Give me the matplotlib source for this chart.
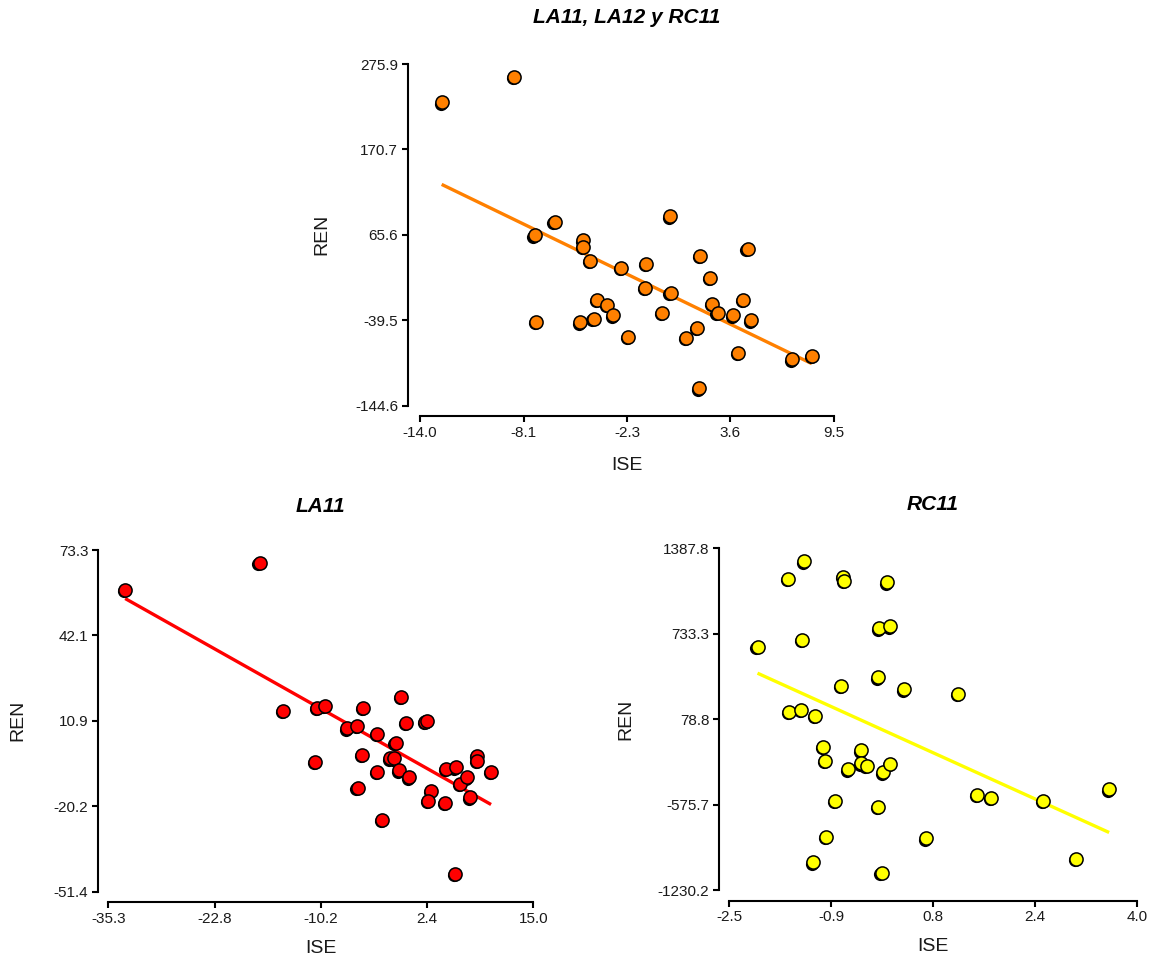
import numpy as np
import matplotlib
matplotlib.use("Agg")
import matplotlib.pyplot as plt
from matplotlib.transforms import offset_copy

plt.rcParams['font.family'] = ['Liberation Sans', 'DejaVu Sans']

# ---- data: ISE vs REN for each group ----
ise_all = [-12.77, -8.65, -6.36, -7.50, -4.72, -4.72, -4.34, 0.18, 1.91, 4.59,
           -1.17, -2.61, 2.48, -1.25, 0.22, -3.96, -3.40, -3.06, -4.15, -4.90,
           -7.39, 2.59, 2.89, 3.76, 4.32, 4.80, -0.27, -2.21, 1.12, 1.72,
           4.04, 7.11, 8.24, 1.84]
ren_all = [228.7, 260.2, 81.5, 65.1, 58.9, 50.7, 33.4, 88.5, 39.6, 48.2,
           29.7, 25.3, 12.9, 0.2, -6.0, -14.2, -20.3, -33.5, -37.6, -42.1,
           -41.3, -19.1, -30.7, -33.5, -14.2, -39.7, -30.5, -59.8, -61.4, -48.9,
           -79.2, -87.7, -83.2, -123.2]

ise_la11 = [-33.3, -17.4, -14.6, -10.6, -9.7, -5.1, -0.7, -0.1, 2.2, 2.4,
            -7.0, -5.9, -3.5, -1.3, -10.8, -5.3, -2.0, -1.5, -3.5, -0.9,
            0.3, -5.8, 2.9, 2.5, 4.6, 4.7, 5.8, 6.3, 7.2, 8.3,
            8.3, 10.0, 7.5, -2.9, 5.7]
ren_la11 = [58.7, 68.5, 14.5, 15.8, 16.5, 15.8, 19.6, 10.2, 10.7, 11.0,
            8.2, 9.1, 6.1, 2.9, -4.1, -1.5, -2.7, -2.7, -7.8, -7.1,
            -9.7, -13.5, -14.6, -18.3, -18.9, -6.6, -6.0, -12.1, -9.7, -1.9,
            -3.6, -7.6, -17.0, -25.2, -44.9]

ise_rc11 = [-2.05, -1.56, -1.31, -0.69, -0.67, 0.02, -1.34, -0.11, 0.07, -0.12,
            -0.72, 0.29, 1.15, -1.54, -1.35, -1.13, -1.01, -0.97, -0.40, -0.40,
            -0.31, -0.61, -0.05, 0.07, -0.81, -0.12, 1.45, 1.67, 2.51, 3.56,
            -0.96, 0.64, -1.17, 3.03, -0.07]
ren_rc11 = [633.9, 1154.9, 1288.2, 1170.2, 1139.5, 1127.3, 687.5, 774.9, 790.2, 399.4,
            335.1, 307.5, 271.5, 135.9, 148.9, 102.9, -134.6, -239.6, -159.9, -259.5,
            -277.9, -305.4, -328.4, -262.6, -548.4, -592.1, -500.1, -523.0, -548.4, -458.8,
            -821.9, -834.1, -1017.9, -992.7, -1097.7]

# axis ranges and tick labels
xlim_all, ylim_all = (-14.0, 9.5), (-144.6, 275.9)
xt_all = ["-14.0", "-8.1", "-2.3", "3.6", "9.5"]
yt_all = ["-144.6", "-39.5", "65.6", "170.7", "275.9"]

xlim_la11, ylim_la11 = (-35.3, 15.0), (-51.4, 73.3)
xt_la11 = ["-35.3", "-22.8", "-10.2", "2.4", "15.0"]
yt_la11 = ["-51.4", "-20.2", "10.9", "42.1", "73.3"]

xlim_rc11, ylim_rc11 = (-2.5, 4.0), (-1230.2, 1387.8)
xt_rc11 = ["-2.5", "-0.9", "0.8", "2.4", "4.0"]
yt_rc11 = ["-1230.2", "-575.7", "78.8", "733.3", "1387.8"]

W, H = 1152, 963
fig = plt.figure(figsize=(W / 100, H / 100), dpi=100)
PT = 72 / 100  # points per pixel


def add_axes(left, top, right, bottom):
    return fig.add_axes([left / W, 1 - bottom / H, (right - left) / W, (bottom - top) / H])


def panel(ax, x, y, color, xlim, ylim, xtl, ytl, title, title_y,
          xlab_y, ylab_x, off_left, off_bottom):
    x = np.asarray(x)
    y = np.asarray(y)
    # least-squares trend line over the observed ISE range
    b, a = np.polyfit(x, y, 1)
    xs = np.array([x.min(), x.max()])
    ax.plot(xs, a + b * xs, color=color, lw=2.4, zorder=2, clip_on=False,
            solid_capstyle='butt')
    # dark rim shifted down-left under each marker
    shadow = offset_copy(ax.transData, fig=fig, x=-0.8, y=-0.9, units='points')
    ax.scatter(x, y, s=90, color='black', transform=shadow, zorder=3, clip_on=False,
               linewidths=0)
    ax.scatter(x, y, s=90, facecolor=color, edgecolor='black', linewidths=1.1,
               zorder=4, clip_on=False)

    ax.set_xlim(*xlim)
    ax.set_ylim(*ylim)
    ax.set_xticks(np.linspace(xlim[0], xlim[1], 5))
    ax.set_xticklabels(xtl)
    ax.set_yticks(np.linspace(ylim[0], ylim[1], 5))
    ax.set_yticklabels(ytl)

    for s in ('top', 'right'):
        ax.spines[s].set_visible(False)
    ax.spines['left'].set_position(('outward', off_left * PT))
    ax.spines['bottom'].set_position(('outward', off_bottom * PT))
    for s in ('left', 'bottom'):
        ax.spines[s].set_linewidth(1.5)
        ax.spines[s].set_color('black')
    ax.tick_params(direction='out', length=4.6, width=1.5, labelsize=11,
                   pad=2.5, colors='black', labelcolor='#1a1a1a')

    ax.set_xlabel('ISE', fontsize=14, va='center', color='#1a1a1a')
    ax.set_ylabel('REN', fontsize=14, va='center', color='#1a1a1a')
    ax.xaxis.set_label_coords(0.5, xlab_y)
    ax.yaxis.set_label_coords(ylab_x, 0.5)
    ax.text(0.5, title_y, title, transform=ax.transAxes, ha='center', va='center',
            fontsize=15, fontweight='bold', fontstyle='italic',
            family=['Liberation Sans Narrow', 'Liberation Sans', 'DejaVu Sans'])
    ax.set_facecolor('none')


ax1 = add_axes(420, 64, 834, 405.7)
panel(ax1, ise_all, ren_all, '#FF8000', xlim_all, ylim_all, xt_all, yt_all,
      'LA11, LA12 y RC11', 1.135, -0.175, -0.237, 12, 10.5)

ax2 = add_axes(108.3, 550, 533.3, 891.7)
panel(ax2, ise_la11, ren_la11, '#FF0000', xlim_la11, ylim_la11, xt_la11, yt_la11,
      'LA11', 1.126, -0.165, -0.2125, 10, 10.5)

ax3 = add_axes(729.3, 548.3, 1136.7, 890)
panel(ax3, ise_rc11, ren_rc11, '#FFFF00', xlim_rc11, ylim_rc11, xt_rc11, yt_rc11,
      'RC11', 1.127, -0.165, -0.2536, 10, 10.5)

fig.savefig('out.png', dpi=100, facecolor='white')
